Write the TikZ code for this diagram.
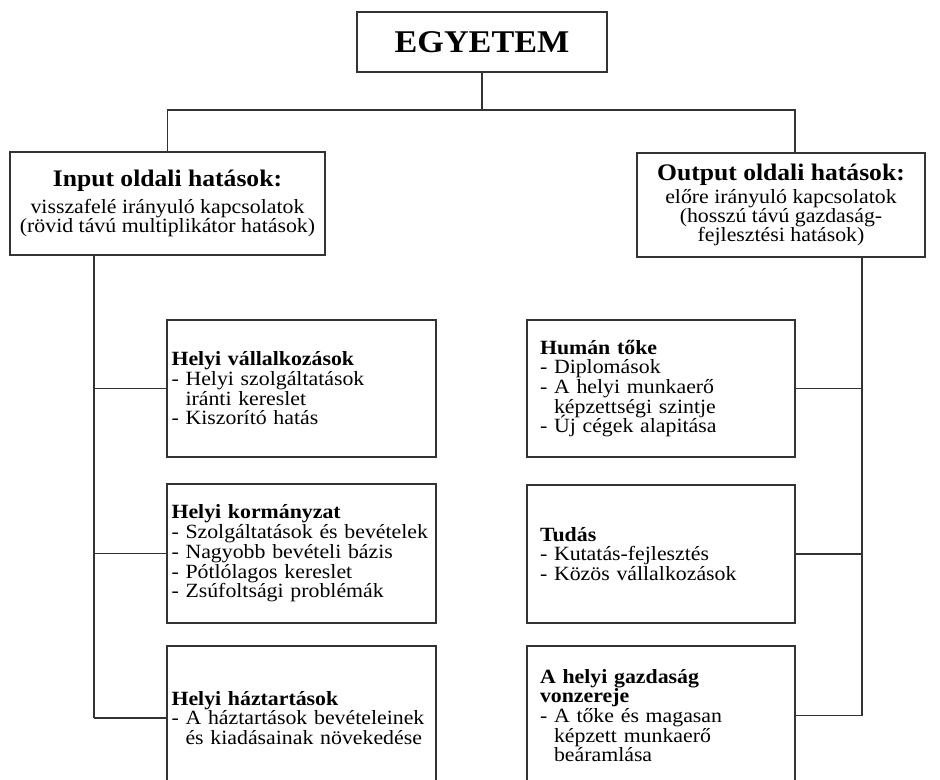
\documentclass[tikz,border=0pt]{standalone}
\usepackage{fontspec}
\setmainfont{Liberation Serif}[FakeStretch=1.08]
\setlength{\normallineskiplimit}{-20pt}
\begin{document}
\begin{tikzpicture}[x=0.02cm,y=-0.02cm,line width=0.8pt,
		doboz/.style={draw=black!80,rectangle,inner sep=0pt},
		fodoboz/.style={doboz,align=center,minimum height=2.06cm,font=\fontsize{11.5}{10.8}\selectfont},
		baldoboz/.style={doboz,align=left,text width=5.2cm,inner xsep=0.09cm,minimum height=2.8cm,font=\fontsize{11.5}{11.2}\selectfont},
		jobbdoboz/.style={doboz,align=left,text width=4.84cm,inner xsep=0.26cm,minimum height=2.8cm,font=\fontsize{11.5}{11.2}\selectfont}]
		\useasboundingbox (0,0) rectangle (940,780);
		
		\node[doboz,minimum width=5cm,minimum height=1.2cm,font=\bfseries\fontsize{18}{18}\selectfont] (egyetem) at (482,42) {EGYETEM};
		
		\node[fodoboz,minimum width=6.3cm] (input) at (167.5,203.5) {{\bfseries\fontsize{13.5}{14}\selectfont Input oldali hatások:}\\[3pt] visszafelé irányuló kapcsolatok\\ (rövid távú multiplikátor hatások)};
		\node[fodoboz,minimum width=5.76cm,minimum height=2.08cm] (output) at (781,205) {{\bfseries\fontsize{13.5}{14}\selectfont Output oldali hatások:}\\[1pt] előre irányuló kapcsolatok\\ (hosszú távú gazdaság-\\ fejlesztési hatások)};
		
		\node[baldoboz,minimum height=2.74cm] (lb1) at (301.5,388.5) {\textbf{Helyi vállalkozások}\\ - Helyi szolgáltatások\\ \phantom{- }iránti kereslet\\ - Kiszorító hatás};
		\node[baldoboz,minimum height=2.78cm] (lb2) at (301.5,553.5) {\textbf{Helyi kormányzat}\\ - Szolgáltatások és bevételek\\ - Nagyobb bevételi bázis\\ - Pótlólagos kereslet\\ - Zsúfoltsági problémák};
		\node[baldoboz,minimum height=2.88cm] (lb3) at (301.5,718) {\textbf{Helyi háztartások}\\ - A háztartások bevételeinek\\ \phantom{- }és kiadásainak növekedése};
		
		\node[jobbdoboz,minimum height=2.74cm] (rb1) at (661,388.5) {\textbf{Humán tőke}\\ - Diplomások\\ - A helyi munkaerő\\ \phantom{- }képzettségi szintje\\ - Új cégek alapitása};
		\node[jobbdoboz,minimum height=2.76cm] (rb2) at (661,554) {\textbf{Tudás}\\ - Kutatás-fejlesztés\\ - Közös vállalkozások\\[6pt]};
		\node[jobbdoboz,minimum height=2.78cm] (rb3) at (661,715.5) {\textbf{A helyi gazdaság}\\ \textbf{vonzereje}\\ - A tőke és magasan\\ \phantom{- }képzett munkaerő\\ \phantom{- }beáramlása};
		
		\coordinate (elag) at (482,110);
		\coordinate (jobbfel) at (795,110);
		\coordinate (balgerinc) at (94,255);
		\coordinate (jobbgerinc) at (862,257);
		
		\draw[black!80] (egyetem) -- (elag);
		\draw[black!80] (input) |- (jobbfel) -- (jobbfel |- output.north);
		\draw[black!80] (balgerinc |- input.south) -- (balgerinc |- lb3.west);
		\draw[black!80] (jobbgerinc |- output.south) -- (jobbgerinc |- rb3.east);
		\foreach \n in {lb1,lb2,lb3}
			\draw[black!80] (balgerinc |- \n.west) -- (\n.west);
		\foreach \n in {rb1,rb2,rb3}
			\draw[black!80] (\n.east) -- (jobbgerinc |- \n.east);
	\end{tikzpicture}
\end{document}
